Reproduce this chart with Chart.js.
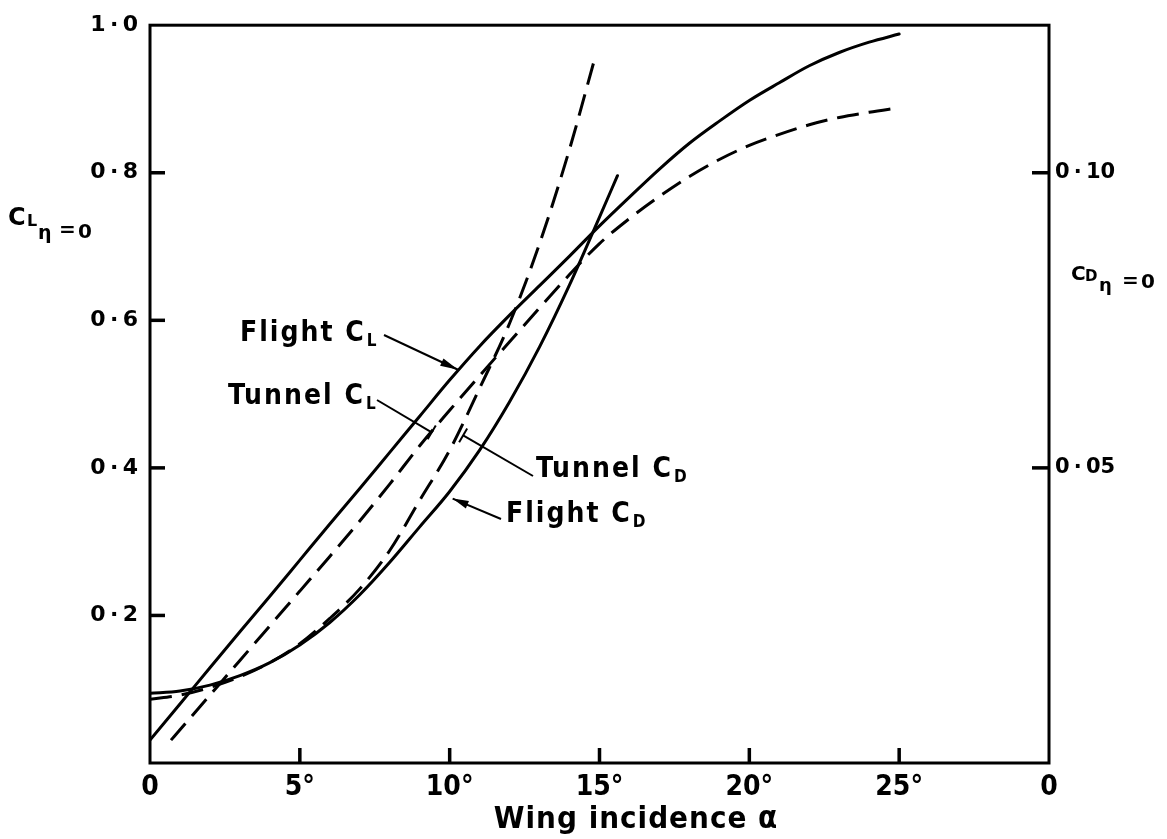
<!DOCTYPE html>
<html><head><meta charset="utf-8">
<script src="https://cdn.jsdelivr.net/npm/chart.js@4.4.1/dist/chart.umd.min.js"></script>
<style>html,body{margin:0;padding:0;background:#fff;}#wrap{width:1167px;height:839px;}</style>
</head><body><div id="wrap"><canvas id="c" width="1167" height="839"></canvas></div>
<script>
// ---- data ----
const alphaFlightCL = [0,1,2,3,4,5,6,7,8,9,10,11,12,13,14,15,16,17,18,19,20,21,22,23,24,25];
const flightCL      = [0.031,0.08,0.129,0.178,0.226,0.275,0.324,0.372,0.421,0.47,0.519,0.565,0.607,0.647,0.687,0.728,0.767,0.805,0.84,0.87,0.898,0.922,0.945,0.963,0.977,0.988];

const alphaTunnelCL = [0.7,1,2,3,4,5,6,7,8,9,10,11,12,13,14,15,16,17,18,19,20,21,22,23,24,25];
const tunnelCL      = [0.031,0.045,0.092,0.139,0.186,0.233,0.28,0.328,0.378,0.43,0.478,0.525,0.571,0.617,0.662,0.704,0.738,0.768,0.795,0.818,0.837,0.852,0.865,0.875,0.882,0.888];

const alphaFlightCD = [0,1,2,3,4,5,6,7,8,9,10,11,12,13,14,15,15.6];
const flightCD      = [0.0118,0.0122,0.0132,0.0148,0.017,0.02,0.0238,0.0285,0.034,0.04,0.046,0.053,0.0612,0.0705,0.081,0.0925,0.0995];

const alphaTunnelCD = [0,1,2,3,4,5,6,7,8,9,10,11,12,13,14,14.85];
const tunnelCD      = [0.0108,0.0115,0.0128,0.0146,0.017,0.0202,0.0245,0.0295,0.036,0.0445,0.053,0.0635,0.0745,0.088,0.104,0.1195];

const xTickValues  = [0,5,10,15,20,25,30];
const xTickLabels  = ['0','5°','10°','15°','20°','25°','0'];
const yTickValues  = [0.2,0.4,0.6,0.8,1.0];
const yTickLabels  = ['0\u2009·\u20092','0\u2009·\u20094','0\u2009·\u20096','0\u2009·\u20098','1\u2009·\u20090'];
const y2TickValues = [0.05,0.10];
const y2TickLabels = ['0\u2009·\u200905','0\u2009·\u200910'];

const NARROW = "'Liberation Sans Narrow','DejaVu Sans Condensed',sans-serif";
const COND = "'DejaVu Sans Condensed','DejaVu Sans',sans-serif";
const BOLD = "'DejaVu Sans',sans-serif";

function pts(xs, ys){ return xs.map((a,i)=>({x:a,y:ys[i]})); }

const solid = {borderColor:'#000',borderWidth:3,pointRadius:0,fill:false,cubicInterpolationMode:'monotone',borderCapStyle:'round'};
const dashed = Object.assign({}, solid, {borderDash:[22,10],borderCapStyle:'butt'});

function line(ctx,x1,y1,x2,y2){ctx.beginPath();ctx.moveTo(x1,y1);ctx.lineTo(x2,y2);ctx.stroke();}
function arrowHead(ctx,fx,fy,tx,ty,len,w){
  const ang=Math.atan2(ty-fy,tx-fx);
  ctx.beginPath();
  ctx.moveTo(tx,ty);
  ctx.lineTo(tx-len*Math.cos(ang)+w*Math.sin(ang), ty-len*Math.sin(ang)-w*Math.cos(ang));
  ctx.lineTo(tx-len*Math.cos(ang)-w*Math.sin(ang), ty-len*Math.sin(ang)+w*Math.cos(ang));
  ctx.closePath(); ctx.fill();
}
function tBar(ctx,fx,fy,tx,ty,half){
  const ang=Math.atan2(ty-fy,tx-fx);
  line(ctx,tx+half*Math.sin(ang),ty-half*Math.cos(ang),tx-half*Math.sin(ang),ty+half*Math.cos(ang));
}
function subText(ctx,main,sub,x,y){
  ctx.font="bold 28px "+COND; ctx.letterSpacing='2px';
  ctx.textBaseline='alphabetic'; ctx.textAlign='left';
  ctx.fillText(main,x,y);
  const w=ctx.measureText(main).width;
  ctx.font="bold 17px "+COND; ctx.letterSpacing='0px';
  ctx.fillText(sub,x+w+1,y+5);
}

const overlay = {
  id:'overlay',
  afterDraw(chart){
    const ctx = chart.ctx, a = chart.chartArea;
    const sx = chart.scales.x, sy = chart.scales.y, sy2 = chart.scales.y2;
    ctx.save();
    ctx.strokeStyle='#000'; ctx.fillStyle='#000'; ctx.lineWidth=3; ctx.lineCap='butt';
    ctx.strokeRect(a.left,a.top,a.right-a.left,a.bottom-a.top);
    // inward tick marks
    for (const v of yTickValues) { if (v < 0.99) { const p = sy.getPixelForValue(v); ctx.fillRect(a.left, p-1.75, 15, 3.5); } }
    for (const v of y2TickValues) { const p = sy2.getPixelForValue(v); ctx.fillRect(a.right-17, p-1.75, 17, 3.5); }
    for (const v of xTickValues) { if (v > 0 && v < 30) { const p = sx.getPixelForValue(v); ctx.fillRect(p-1.75, a.bottom-15, 3.5, 15); } }

    // axis titles
    ctx.textBaseline='alphabetic'; ctx.textAlign='left';
    ctx.font="bold 24px "+BOLD; ctx.fillText('C',8,225);
    ctx.font="bold 16px "+BOLD; ctx.fillText('L',27,226);
    ctx.font="bold 19px "+BOLD; ctx.fillText('η',38,239);
    ctx.font="bold 20px "+BOLD; ctx.fillText('=',59,236); ctx.fillText('0',78,238);

    ctx.font="bold 20px "+BOLD; ctx.fillText('C',1071,280);
    ctx.font="bold 15px "+BOLD; ctx.fillText('D',1085,281);
    ctx.font="bold 18px "+BOLD; ctx.fillText('η',1099,291);
    ctx.font="bold 20px "+BOLD; ctx.fillText('=',1122,287); ctx.fillText('0',1141,288);

    ctx.font="bold 31px "+COND; ctx.letterSpacing='1px'; ctx.textAlign='center';
    ctx.fillText('Wing incidence α', 636, 828);
    ctx.letterSpacing='0px'; ctx.textAlign='left';

    // curve annotations
    ctx.lineWidth=2;
    subText(ctx,'Flight C','L',240,341);
    let tx=sx.getPixelForValue(10.28), ty=sy.getPixelForValue(0.533);
    line(ctx,384,335,tx,ty); arrowHead(ctx,384,335,tx,ty,18,4);

    subText(ctx,'Tunnel C','L',228,404);
    tx=sx.getPixelForValue(9.4); ty=sy.getPixelForValue(0.448);
    line(ctx,377,400,tx,ty); tBar(ctx,377,400,tx,ty,8);

    subText(ctx,'Tunnel C','D',536,477);
    tx=sx.getPixelForValue(10.45); ty=sy2.getPixelForValue(0.0555);
    line(ctx,533,476,tx,ty); tBar(ctx,533,476,tx,ty,8);

    subText(ctx,'Flight C','D',506,522);
    tx=sx.getPixelForValue(10.1); ty=sy2.getPixelForValue(0.0448);
    line(ctx,501,519,tx,ty); arrowHead(ctx,501,519,tx,ty,16,4);
    ctx.restore();
  }
};

new Chart(document.getElementById('c'), {
  type:'line',
  data:{datasets:[
    Object.assign({label:'Flight CL', data:pts(alphaFlightCL,flightCL), yAxisID:'y'}, solid),
    Object.assign({label:'Tunnel CL', data:pts(alphaTunnelCL,tunnelCL), yAxisID:'y'}, dashed),
    Object.assign({label:'Flight CD', data:pts(alphaFlightCD,flightCD), yAxisID:'y2'}, solid),
    Object.assign({label:'Tunnel CD', data:pts(alphaTunnelCD,tunnelCD), yAxisID:'y2'}, dashed)
  ]},
  options:{
    responsive:false, animation:false, devicePixelRatio:1,
    layout:{padding:{top:13,left:0,right:0,bottom:0}},
    plugins:{legend:{display:false}, tooltip:{enabled:false}},
    scales:{
      x:{type:'linear', min:0, max:30,
        afterBuildTicks:s=>{s.ticks=xTickValues.map(v=>({value:v}));},
        afterFit:s=>{s.height=76;},
        grid:{display:false,drawTicks:false}, border:{display:false},
        ticks:{autoSkip:false,maxRotation:0,padding:8,color:'#000',
          font:{family:NARROW,size:28,weight:'bold'},
          callback:(v,i)=>xTickLabels[i]}},
      y:{type:'linear', position:'left', min:0, max:1,
        afterBuildTicks:s=>{s.ticks=yTickValues.map(v=>({value:v}));},
        afterFit:s=>{s.width=150;},
        grid:{display:false,drawTicks:false}, border:{display:false},
        ticks:{padding:12,color:'#000',font:{family:BOLD,size:22,weight:'bold'},
          callback:(v,i)=>yTickLabels[i]}},
      y2:{type:'linear', position:'right', min:0, max:0.125,
        afterBuildTicks:s=>{s.ticks=y2TickValues.map(v=>({value:v}));},
        afterFit:s=>{s.width=118;},
        grid:{display:false,drawTicks:false}, border:{display:false},
        ticks:{padding:6,color:'#000',font:{family:BOLD,size:21,weight:'bold'},
          callback:(v,i)=>y2TickLabels[i]}}
    }
  },
  plugins:[overlay]
});
</script></body></html>
